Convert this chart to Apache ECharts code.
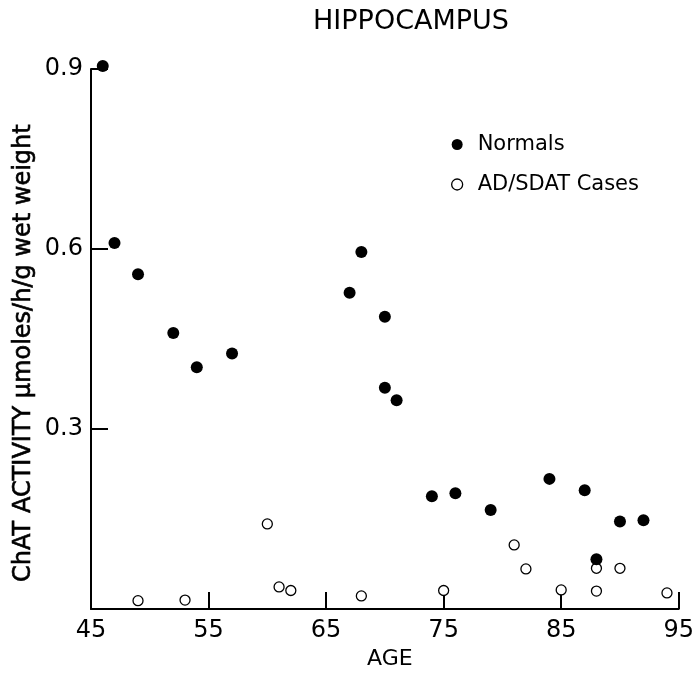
<!DOCTYPE html>
<html>
<head>
<meta charset="utf-8">
<script src="https://cdn.jsdelivr.net/npm/echarts@6/dist/echarts.min.js"></script>
<style>
  html, body { margin: 0; padding: 0; background: #fff; }
  #chart { width: 697px; height: 675px; }
</style>
</head>
<body>
<div id="chart"></div>
<script>
// ChAT activity in hippocampus versus age
const normalsAge   = [46, 47, 49, 52, 54, 57, 67, 68, 70, 70, 71, 74, 76, 79, 84, 87, 88, 90, 92];
const normalsValue = [0.905, 0.61, 0.558, 0.46, 0.403, 0.426, 0.527, 0.595, 0.487, 0.369, 0.348, 0.188, 0.193, 0.165, 0.217, 0.198, 0.083, 0.146, 0.148];

const adAge   = [49, 53, 60, 61, 62, 68, 75, 81, 82, 85, 88, 88, 90, 94];
const adValue = [0.014, 0.015, 0.142, 0.037, 0.031, 0.022, 0.031, 0.107, 0.067, 0.032, 0.068, 0.030, 0.068, 0.027];

const xTicks = [45, 55, 65, 75, 85, 95];
const yTicks = [0.3, 0.6, 0.9];

const FONT = '"DejaVu Sans"';

function pairs(xs, ys) {
  return xs.map((x, i) => [x, ys[i]]);
}

const chart = echarts.init(document.getElementById('chart'), null, { renderer: 'canvas' });

chart.setOption({
  animation: false,
  backgroundColor: '#ffffff',
  textStyle: { fontFamily: FONT, color: '#000' },
  title: {
    text: 'HIPPOCAMPUS',
    left: 406,
    top: 3,
    textAlign: 'center',
    textStyle: { fontFamily: FONT, fontSize: 27, fontWeight: 'normal', color: '#000' }
  },
  legend: {
    orient: 'vertical',
    left: 446,
    top: 129,
    itemWidth: 11,
    itemHeight: 11,
    itemGap: 19,
    textStyle: { fontFamily: FONT, fontSize: 21, lineHeight: 21, color: '#000', padding: [0, 0, 0, 10] },
    data: [
      { name: 'Normals', icon: 'circle', itemStyle: { color: '#000', borderWidth: 0, opacity: 1 } },
      { name: 'AD/SDAT Cases', icon: 'circle', itemStyle: { color: '#fff', borderColor: '#000', borderWidth: 1.3, opacity: 1 } }
    ]
  },
  grid: { left: 91, right: 16, top: 69, bottom: 63, containLabel: false },
  xAxis: {
    type: 'value',
    min: 45,
    max: 95,
    interval: 10,
    name: 'AGE',
    nameLocation: 'middle',
    nameGap: 37,
    nameTextStyle: { fontFamily: FONT, fontSize: 22, color: '#000', padding: [0, 0, 0, 10] },
    axisLine: { lineStyle: { color: '#000', width: 2 } },
    axisTick: { inside: true, length: 17, lineStyle: { color: '#000', width: 2 } },
    axisLabel: {
      fontFamily: FONT, fontSize: 24, color: '#000', margin: 10,
      formatter: v => xTicks.includes(v) ? String(v) : ''
    },
    splitLine: { show: false }
  },
  yAxis: {
    type: 'value',
    min: 0,
    max: 0.9,
    interval: 0.3,
    axisLine: { lineStyle: { color: '#000', width: 2 } },
    axisTick: { inside: true, length: 17, lineStyle: { color: '#000', width: 2 } },
    axisLabel: {
      fontFamily: FONT, fontSize: 24, color: '#000', margin: 8,
      formatter: v => yTicks.some(t => Math.abs(t - v) < 1e-9) ? v.toFixed(1) : ''
    },
    splitLine: { show: false }
  },
  graphic: [{
    type: 'text',
    left: 11,
    top: 124,
    rotation: Math.PI / 2,
    style: {
      text: 'ChAT ACTIVITY \u03bcmoles/h/g wet weight',
      font: 'normal 24px "DejaVu Sans"',
      fill: '#000',
      stroke: '#000',
      lineWidth: 0.6
    }
  }],
  series: [
    {
      name: 'Normals',
      type: 'scatter',
      symbol: 'circle',
      symbolSize: 12,
      clip: false,
      itemStyle: { color: '#000', opacity: 1 },
      z: 3,
      data: pairs(normalsAge, normalsValue)
    },
    {
      name: 'AD/SDAT Cases',
      type: 'scatter',
      symbol: 'circle',
      symbolSize: 10,
      clip: false,
      itemStyle: { color: '#fff', borderColor: '#000', borderWidth: 1.3, opacity: 1 },
      z: 2,
      data: pairs(adAge, adValue)
    }
  ]
});
</script>
</body>
</html>
